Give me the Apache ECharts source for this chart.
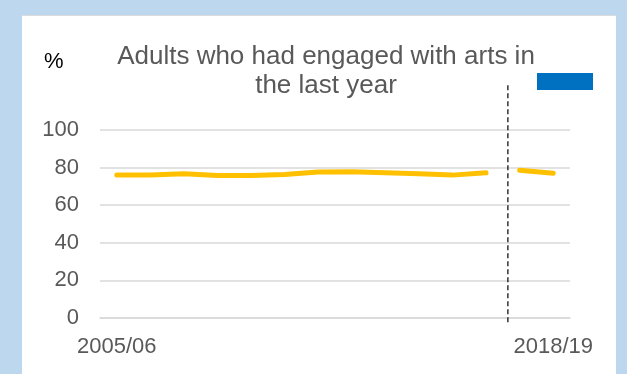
<!DOCTYPE html>
<html>
<head>
<meta charset="utf-8">
<style>
  html, body { margin: 0; padding: 0; background: #BDD7EE; }
  #chart { width: 627px; height: 374px; }
</style>
<script src="https://cdn.jsdelivr.net/npm/echarts@6/dist/echarts.min.js"></script>
</head>
<body>
<div id="chart"></div>
<script>
// Survey years
const years = ['2005/06', '2006/07', '2007/08', '2008/09', '2009/10', '2010/11', '2011/12',
  '2012/13', '2013/14', '2014/15', '2015/16', '2016/17', '2017/18', '2018/19'];

// Percentage of adults engaging with the arts, earlier survey method
const artsEarlier = [76.0, 76.0, 76.7, 75.8, 75.8, 76.3, 77.6, 77.8, 77.2, 76.7, 76.0, 77.2, null, null];
// Same measure after the method change
const artsLater = [null, null, null, null, null, null, null, null, null, null, null, null, 78.6, 77.0];

// Vertical separator between the two survey methods (position on a 0-14 band scale)
const breakX = [12.15, 12.15];
const breakY = [-2.3, 124];

const yTicks = [0, 20, 40, 60, 80, 100];

const chart = echarts.init(document.getElementById('chart'));
const textColor = '#595959';
const font = 'Liberation Sans, Arial, sans-serif';

chart.setOption({
  backgroundColor: '#BDD7EE',
  animation: false,
  title: {
    text: 'Adults who had engaged with arts in\nthe last year',
    left: 321,
    top: 37,
    textAlign: 'center',
    textStyle: { color: textColor, fontFamily: font, fontSize: 26, fontWeight: 'normal', lineHeight: 29 }
  },
  graphic: [
    { type: 'rect', z: -10, shape: { x: 22, y: 15, width: 594, height: 359 },
      style: { fill: '#ffffff' } },
    { type: 'line', z: -9, shape: { x1: 22, y1: 15.5, x2: 616, y2: 15.5 },
      style: { stroke: '#dcdcdc', lineWidth: 1 } },
    { type: 'rect', shape: { x: 537, y: 73, width: 56, height: 17 },
      style: { fill: '#0070C0' } },
    { type: 'text', left: 44, top: 51,
      style: { text: '%', fill: '#000000', font: '22px ' + font } }
  ],
  grid: [
    { left: 100, right: 57, top: 130, bottom: 56 }
  ],
  xAxis: [
    {
      type: 'category',
      data: years,
      boundaryGap: true,
      axisLine: { show: true, lineStyle: { color: '#d9d9d9', width: 1.5 } },
      axisTick: { show: false },
      axisLabel: {
        color: textColor, fontFamily: font, fontSize: 22, margin: 18,
        interval: 0,
        formatter: (v, i) => (i === 0 || i === years.length - 1) ? v : ''
      }
    },
    { type: 'value', min: 0, max: years.length, show: false, gridIndex: 0 }
  ],
  yAxis: [
    {
      type: 'value',
      min: yTicks[0],
      max: yTicks[yTicks.length - 1],
      interval: 20,
      axisLine: { show: false },
      axisTick: { show: false },
      splitLine: { lineStyle: { color: '#d9d9d9', width: 1.5 } },
      axisLabel: { color: textColor, fontFamily: font, fontSize: 22, margin: 21 }
    },
    { type: 'value', min: 0, max: 100, show: false, gridIndex: 0 }
  ],
  series: [
    {
      name: 'Arts engagement',
      type: 'line',
      data: artsEarlier,
      symbol: 'none',
      connectNulls: false,
      lineStyle: { color: '#FFC000', width: 5, cap: 'round', join: 'round' }
    },
    {
      name: 'Arts engagement (new method)',
      type: 'line',
      data: artsLater,
      symbol: 'none',
      connectNulls: false,
      lineStyle: { color: '#FFC000', width: 5, cap: 'round', join: 'round' }
    },
    {
      name: 'Method change',
      type: 'line',
      xAxisIndex: 1,
      yAxisIndex: 1,
      clip: false,
      symbol: 'none',
      data: breakX.map((x, i) => [x, breakY[i]]),
      lineStyle: { color: '#000000', width: 1.2, type: [5, 3] },
      z: 5
    }
  ]
});
</script>
</body>
</html>
